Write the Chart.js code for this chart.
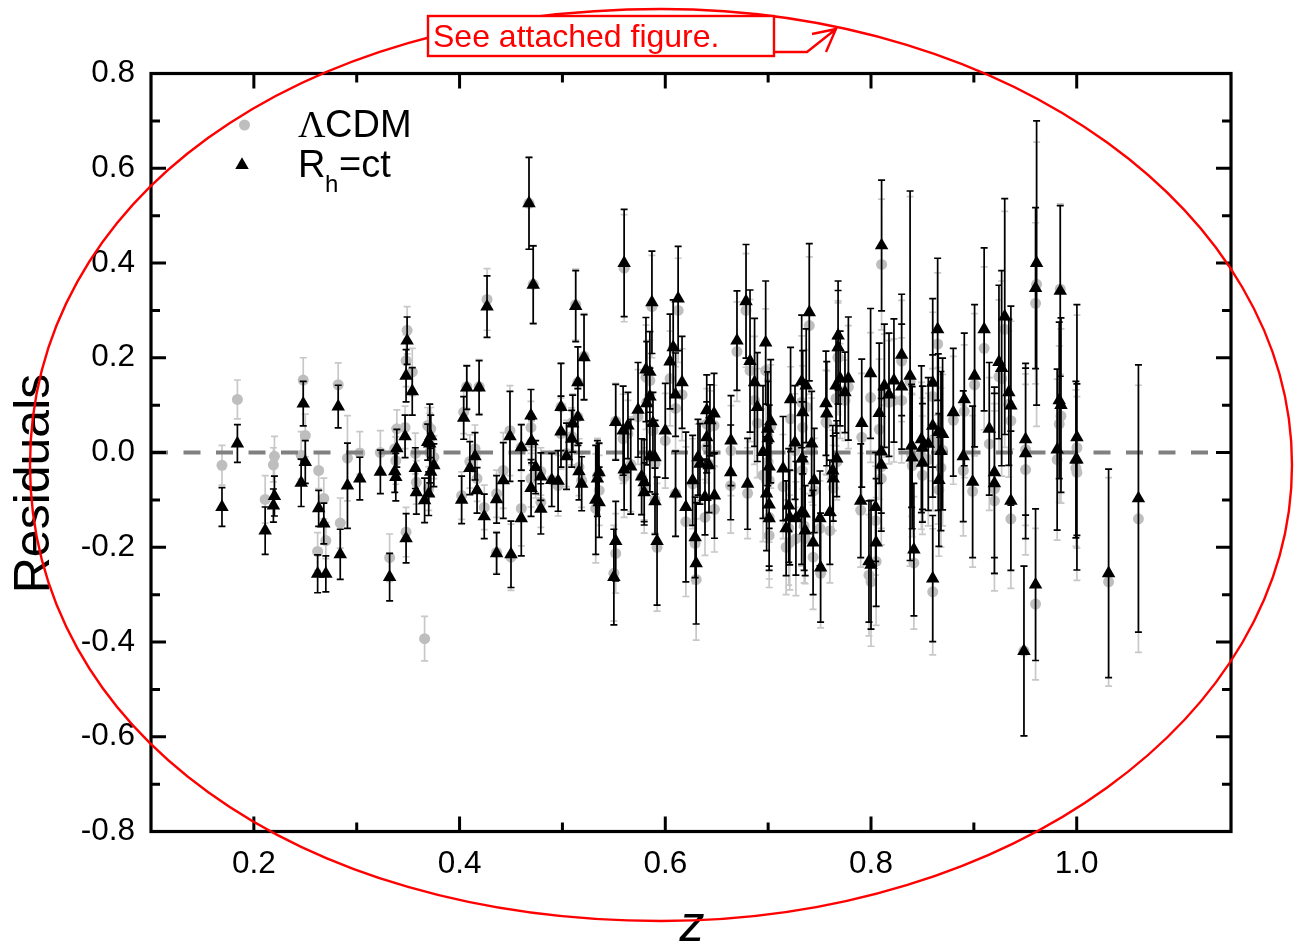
<!DOCTYPE html>
<html>
<head>
<meta charset="utf-8">
<title>Residuals</title>
<script src="https://cdn.jsdelivr.net/npm/chart.js@4"></script>
<style>html,body{margin:0;padding:0;background:#fff}canvas{display:block}</style>
</head>
<body>
<canvas id="c" width="1297" height="947"></canvas>
<script>
const redshift = [
.169,.184,.211,.219,.220,.246,.248,.250,.263,.262,
.268,.270,.282,.284,.291,.303,.323,.332,.337,.338,
.339,.347,.348,.349,.348,.354,.357,.358,.369,.371,
.372,.375,.372,.370,.366,.402,.404,.407,.410,.415,
.419,.417,.424,.436,.436,.4267,.449,.450,.4425,.460,
.460,.4694,.470,.4695,.4716,.4675,.474,.479,.479,.4896,
.4958,.4986,.4986,.504,.509,.510,.5129,.515,.515,.5161,
.5187,.521,.5324,.534,.5356,.5357,.5518,.550,.5518,.560,
.559,.560,.5637,.5664,.5735,.577,.5795,.5812,.582,.5795,
.585,.585,.587,.585,.588,.590,.590,.592,.600,.6046,
.6077,.610,.610,.6125,.6163,.620,.6266,.629,.630,.6318,
.6337,.6386,.6403,.6434,.6403,.6425,.6474,.6478,.6639,.6636,
.6697,.6785,.680,.6824,.6868,.6895,.6976,.695,.6996,.7025,
.700,.701,.6985,.701,.701,.7145,.7175,.720,.7218,.721,
.7261,.727,.7326,.7336,.733,.7326,.735,.736,.737,.740,
.7423,.7448,.7437,.751,.7504,.7562,.757,.760,.7628,.7633,
.7667,.768,.768,.766,.770,.7747,.778,.791,.790,.7996,
.798,.800,.8045,.805,.808,.8103,.810,.810,.813,.8175,
.8223,.8298,.8298,.838,.8395,.840,.8417,.849,.850,.850,
.8557,.860,.860,.860,.8648,.8654,.8696,.868,.866,.880,
.8907,.8897,.9007,.8988,.910,.915,.920,.920,.9244,.927,
.930,.934,.936,.936,.9487,.9503,.9503,.961,.960,.960,
.981,.983,.9847,.984,.9992,1.0002,1.0002,1.031,1.060
];
const rhResiduals = [
-.115,.019,-.165,-.112,-.092,-.064,.103,-.02,-.118,-.256,
-.15,-.256,.097,-.215,-.07,-.055,-.041,-.263,-.04,-.052,
.009,.034,.162,.236,-.181,.129,-.033,-.084,.022,.019,
.034,-.027,-.041,-.087,-.101,-.1,.073,.137,-.033,-.008,
.137,-.08,-.135,-.099,-.213,.308,.034,-.215,-.059,.011,
-.139,.078,.024,-.075,.354,.526,-.031,-.051,-.119,-.058,
-.06,.096,.044,-.008,.029,.061,.309,.148,.075,-.04,
-.066,.201,-.1,-.055,-.042,-.105,-.187,-.263,.064,.4,
.046,-.036,.057,-.03,.09,-.051,-.063,.175,.104,-.084,
.17,.118,.317,-.008,.062,-.01,-.103,-.187,.046,.192,
.222,.122,-.087,.325,.148,-.115,-.059,-.179,-.234,-.01,
-.024,-.094,.089,.068,.032,-.027,.082,-.091,.025,-.042,
.236,.319,-.066,.193,.148,.096,.232,.001,.05,.066,
.03,-.03,-.087,-.11,-.139,-.034,-.16,-.112,.112,-.137,
.021,-.139,.15,.085,-.013,-.126,-.129,-.165,.141,.296,
.019,-.059,-.19,-.243,-.139,.104,.082,-.126,-.038,-.055,
-.013,.247,.222,.141,.156,.127,.156,.062,-.102,.167,
-.23,-.237,-.115,-.19,.083,.437,.002,-.026,.141,.122,
.152,.206,.139,.162,.014,-.011,-.205,.028,.01,-.022,
.018,.147,.056,-.266,.26,.043,.039,.003,-.058,.085,
.112,-.008,.162,-.062,.26,.05,-.042,-.065,.191,.178,
.287,.127,.099,-.102,-.419,.028,-.002,.4,.347,-.279,
.006,.11,.1,.341,-.015,.032,-.015,-.255,-.097
];
const rhErrors = [
.041,.04,.05,.035,.042,.05,.047,.045,.038,.04,
.043,.038,.045,.053,.09,.045,.046,.05,.044,.05,
.04,.045,.055,.05,.052,.05,.043,.046,.038,.083,
.045,.045,.05,.046,.047,.05,.045,.046,.056,.05,
.057,.048,.047,.05,.044,.065,.095,.07,.08,.048,
.079,.055,.046,.06,.082,.097,.056,.05,.053,.056,
.064,.092,.075,.07,.06,.06,.075,.075,.06,.06,
.057,.09,.115,.08,.062,.074,.084,.101,.08,.113,
.094,.085,.07,.1,.1,.08,.09,.11,.13,.062,
.085,.06,.108,.075,.065,.078,.07,.135,.1,.1,
.1,.088,.09,.11,.097,.158,.095,.085,.128,.08,
.085,.08,.075,.075,.075,.1,.085,.09,.095,.1,
.105,.12,.096,.15,.135,.115,.13,.14,.12,.13,
.12,.13,.12,.13,.11,.11,.1,.12,.11,.1,
.12,.12,.14,.13,.12,.11,.12,.095,.12,.145,
.11,.11,.11,.115,.1,.11,.11,.11,.095,.09,
.08,.115,.12,.1,.1,.085,.13,.135,.12,.137,
.128,.136,.115,.135,.148,.138,.13,.14,.13,.13,
.13,.128,.132,.39,.13,.15,.14,.155,.13,.125,
.14,.178,.15,.133,.15,.165,.16,.168,.14,.135,
.14,.138,.15,.16,.172,.14,.18,.19,.162,.206,
.249,.154,.21,.147,.179,.16,.18,.3,.17,.16,
.17,.165,.184,.18,.165,.28,.16,.22,.282
];
const lcdmResiduals = [
-.027,.112,-.099,-.026,-.008,-.006,.153,.036,-.038,-.209,
-.097,-.186,.143,-.149,-.012,-.001,0,-.222,.008,-.017,
.05,.053,.194,.258,-.168,.17,-.002,-.063,.057,0,
.05,-.01,.004,-.076,-.393,-.091,.085,.139,-.019,.008,
.139,-.055,-.116,-.087,-.211,.323,.046,-.221,-.038,.011,
-.118,.053,.02,-.055,.355,.526,-.04,-.04,-.105,-.058,
-.07,.096,.04,-.002,.034,.064,.312,.148,.075,-.031,
-.059,.203,-.118,-.05,-.045,-.08,-.213,-.255,.066,.389,
.029,-.052,.04,-.025,.075,-.052,-.08,.159,.106,-.08,
.152,.12,.308,-.01,.046,-.024,-.1,-.2,.025,.156,
.22,.093,-.087,.3,.122,-.146,-.066,-.192,-.268,-.02,
-.02,-.137,.06,.055,.011,-.025,.057,-.12,.004,-.07,
.213,.3,-.086,.173,.11,.062,.173,-.048,.034,.055,
-.02,-.059,-.06,-.137,-.175,-.072,-.2,-.16,.071,-.19,
.004,-.182,.106,.053,-.038,-.13,-.155,-.182,.096,.268,
.005,-.08,-.221,-.255,-.16,.064,.062,-.165,-.048,-.075,
-.02,.201,.2,.114,.13,.11,.138,.032,-.122,.116,
-.259,-.273,-.144,-.23,.049,.397,-.03,-.055,.12,.106,
.11,.193,.11,.15,-.005,-.028,-.233,-.007,-.015,-.048,
-.015,.118,.027,-.294,.229,.014,.005,-.032,-.079,.068,
.087,-.038,.143,-.082,.22,.018,-.077,-.102,.16,.156,
.26,.102,.067,-.14,-.419,.006,-.036,.355,.315,-.32,
-.015,.06,.077,.345,-.033,.01,-.042,-.273,-.14
];
const lcdmErrors = [
.042,.041,.05,.036,.042,.05,.047,.045,.038,.04,
.043,.038,.046,.053,.09,.045,.046,.05,.044,.05,
.04,.045,.055,.05,.052,.05,.043,.046,.038,.083,
.045,.045,.05,.046,.047,.05,.045,.046,.056,.05,
.057,.048,.047,.05,.044,.065,.095,.07,.08,.048,
.079,.055,.046,.06,.082,.097,.056,.05,.053,.056,
.064,.092,.075,.07,.06,.06,.075,.075,.06,.06,
.057,.09,.115,.08,.062,.074,.084,.101,.08,.113,
.094,.085,.07,.1,.1,.08,.09,.11,.13,.062,
.085,.06,.108,.075,.065,.078,.07,.135,.1,.1,
.1,.088,.09,.11,.097,.158,.095,.085,.128,.08,
.085,.08,.075,.075,.075,.1,.085,.09,.095,.1,
.105,.12,.096,.15,.135,.115,.13,.14,.12,.13,
.12,.13,.12,.13,.11,.11,.1,.12,.11,.1,
.12,.12,.14,.13,.12,.11,.12,.095,.12,.145,
.11,.11,.11,.115,.1,.11,.11,.11,.095,.09,
.08,.115,.12,.1,.1,.085,.13,.135,.12,.137,
.128,.136,.115,.135,.148,.138,.13,.14,.13,.13,
.13,.128,.132,.39,.13,.15,.14,.155,.13,.125,
.14,.178,.15,.133,.15,.165,.16,.168,.14,.135,
.14,.138,.15,.16,.172,.14,.18,.19,.162,.206,
.249,.154,.21,.147,.179,.16,.18,.3,.17,.16,
.17,.165,.184,.18,.165,.28,.16,.22,.282
];
const zeroLineZ = [0.1, 1.135];
const zeroLineValues = [0, 0];

const SANS = '"Liberation Sans", Arial, sans-serif';
const RED = '#ff0000';

const lcdmPoints = redshift.map((z, i) => ({x: z, y: lcdmResiduals[i]}));
const rhPoints = redshift.map((z, i) => ({x: z, y: rhResiduals[i]}));
const zeroPoints = zeroLineZ.map((z, i) => ({x: z, y: zeroLineValues[i]}));
const errorsByLabel = {
  'ΛCDM': {errors: lcdmErrors, color: '#c8c8c8'},
  'Rh=ct': {errors: rhErrors, color: '#000000'}
};

const errorBars = {
  id: 'errorBars',
  beforeDatasetDraw(chart, args) {
    const ds = chart.data.datasets[args.index];
    const spec = errorsByLabel[ds.label];
    if (!spec) return;
    const {ctx, scales: {x, y}} = chart;
    ctx.save();
    ctx.strokeStyle = spec.color;
    ctx.lineWidth = 1.7;
    ctx.beginPath();
    ds.data.forEach((p, i) => {
      const px = x.getPixelForValue(p.x);
      const top = y.getPixelForValue(p.y + spec.errors[i]);
      const bot = y.getPixelForValue(p.y - spec.errors[i]);
      ctx.moveTo(px, top); ctx.lineTo(px, bot);
      ctx.moveTo(px - 3.5, top); ctx.lineTo(px + 3.5, top);
      ctx.moveTo(px - 3.5, bot); ctx.lineTo(px + 3.5, bot);
    });
    ctx.stroke();
    ctx.restore();
  }
};

function isMajor(v) { return Math.abs(Math.round(v * 10)) % 2 === 0; }

const frameAndNotes = {
  id: 'frameAndNotes',
  afterDraw(chart) {
    const {ctx, chartArea: a, scales: {x, y}} = chart;
    ctx.save();
    // frame and inward ticks on all four sides
    ctx.strokeStyle = '#000';
    ctx.lineWidth = 3.2;
    ctx.lineCap = 'butt';
    ctx.strokeRect(a.left, a.top, a.right - a.left, a.bottom - a.top);
    ctx.lineWidth = 3;
    ctx.beginPath();
    x.ticks.forEach(t => {
      const p = x.getPixelForValue(t.value), l = isMajor(t.value) ? 15 : 9;
      ctx.moveTo(p, a.bottom); ctx.lineTo(p, a.bottom - l);
      ctx.moveTo(p, a.top); ctx.lineTo(p, a.top + l);
    });
    y.ticks.forEach(t => {
      const p = y.getPixelForValue(t.value), l = isMajor(t.value) ? 15 : 9;
      ctx.moveTo(a.left, p); ctx.lineTo(a.left + l, p);
      ctx.moveTo(a.right, p); ctx.lineTo(a.right - l, p);
    });
    ctx.stroke();

    // axis titles
    ctx.fillStyle = '#000';
    ctx.textBaseline = 'alphabetic';
    ctx.textAlign = 'center';
    ctx.font = 'italic 50px ' + SANS;
    ctx.fillText('z', 692, 941);
    ctx.save();
    ctx.translate(49, 483.5);
    ctx.rotate(-Math.PI / 2);
    ctx.font = '50px ' + SANS;
    ctx.fillText('Residuals', 0, 0);
    ctx.restore();

    // legend
    ctx.textAlign = 'left';
    ctx.fillStyle = '#bebebe';
    ctx.beginPath(); ctx.arc(244.5, 125, 5.5, 0, Math.PI * 2); ctx.fill();
    ctx.fillStyle = '#000';
    Chart.helpers.drawPoint(ctx, {pointStyle: 'triangle', radius: 7.8, borderWidth: 0}, 242, 165);
    ctx.fillStyle = '#000';
    ctx.font = '38px "Liberation Serif", serif';
    ctx.fillText('Λ', 298, 137);
    ctx.font = '38px ' + SANS;
    ctx.fillText('CDM', 325, 137);
    ctx.fillText('R', 298, 177);
    ctx.font = '24px ' + SANS;
    ctx.fillText('h', 325, 192);
    ctx.font = '38px ' + SANS;
    ctx.fillText('=ct', 339, 177);

    // red annotation: hand-drawn oval, fuller on its left side
    const cx = 661, cy = 465, rx = 631, ry = 456, kR = 0.5523, kL = 0.58;
    ctx.strokeStyle = RED;
    ctx.lineWidth = 2.4;
    ctx.beginPath();
    ctx.moveTo(cx, cy - ry);
    ctx.bezierCurveTo(cx + rx * kR, cy - ry, cx + rx, cy - ry * kR, cx + rx, cy);
    ctx.bezierCurveTo(cx + rx, cy + ry * kR, cx + rx * kR, cy + ry, cx, cy + ry);
    ctx.bezierCurveTo(cx - rx * kL, cy + ry, cx - rx, cy + ry * kL, cx - rx, cy);
    ctx.bezierCurveTo(cx - rx, cy - ry * kL, cx - rx * kL, cy - ry, cx, cy - ry);
    ctx.closePath();
    ctx.stroke();
    ctx.fillStyle = '#fff';
    ctx.fillRect(428, 16, 346, 40);
    ctx.strokeRect(428, 16, 346, 40);
    ctx.beginPath();
    ctx.moveTo(775, 52); ctx.lineTo(807, 52); ctx.lineTo(836, 29);
    ctx.moveTo(812, 34); ctx.lineTo(836, 29); ctx.lineTo(826, 52);
    ctx.stroke();
    ctx.fillStyle = RED;
    ctx.font = '32px ' + SANS;
    ctx.fillText('See attached figure.', 433, 47);
    ctx.restore();
  }
};

new Chart(document.getElementById('c'), {
  type: 'scatter',
  plugins: [errorBars, frameAndNotes],
  data: {
    datasets: [
      {label: 'Rh=ct', data: rhPoints, order: 1, pointStyle: 'triangle', pointRadius: 7.8,
       pointBackgroundColor: '#000', pointBorderWidth: 0, showLine: false},
      {label: 'zero', data: zeroPoints, order: 2, showLine: true, pointRadius: 0,
       borderColor: '#808080', borderWidth: 4, borderDash: [17, 15.5]},
      {label: 'ΛCDM', data: lcdmPoints, order: 3, pointStyle: 'circle', pointRadius: 5.5,
       pointBackgroundColor: '#bebebe', pointBorderWidth: 0, showLine: false}
    ]
  },
  options: {
    responsive: false,
    animation: false,
    events: [],
    layout: {padding: {left: 51, right: 66, top: 73.5, bottom: 65.5}},
    plugins: {legend: {display: false}, tooltip: {enabled: false}, title: {display: false}},
    scales: {
      x: {
        type: 'linear', min: 0.1, max: 1.15,
        grid: {display: false, drawTicks: false}, border: {display: false},
        afterBuildTicks(s) { s.ticks = s.ticks.filter(t => Math.abs(t.value * 10 - Math.round(t.value * 10)) < 1e-6 && t.value > 0.15); },
        afterFit(s) { s.height = 50; },
        ticks: {
          stepSize: 0.1, autoSkip: false, maxRotation: 0, padding: 14, color: '#000',
          font: {family: SANS, size: 31.5},
          callback: v => isMajor(v) ? v.toFixed(1) : ''
        }
      },
      y: {
        type: 'linear', min: -0.8, max: 0.8,
        grid: {display: false, drawTicks: false}, border: {display: false},
        afterFit(s) { s.width = 100; },
        ticks: {
          stepSize: 0.1, autoSkip: false, padding: 16, color: '#000',
          font: {family: SANS, size: 31.5},
          callback: v => isMajor(v) ? v.toFixed(1) : ''
        }
      }
    }
  }
});
</script>
</body>
</html>
